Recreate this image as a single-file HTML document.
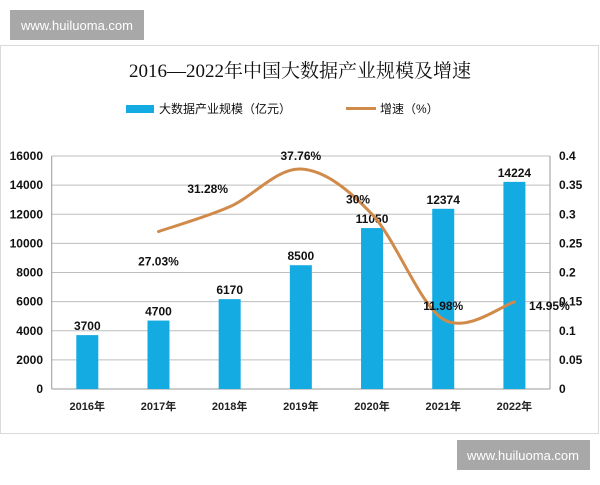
<!DOCTYPE html>
<html><head><meta charset="utf-8"><style>
body{margin:0;background:#fff;width:600px;height:480px;overflow:hidden;font-family:"Liberation Sans","Noto Sans CJK SC",sans-serif}
</style></head><body>
<svg width="600" height="480" viewBox="0 0 600 480">
<rect x="0.5" y="45.5" width="598" height="388" fill="#fff" stroke="#d9d9d9"/>
<rect x="10" y="10" width="134" height="30" fill="#a8a8a8"/>
<text x="77" y="30" font-size="13" fill="#fff" text-anchor="middle">www.huiluoma.com</text>
<rect x="457" y="440" width="133" height="30" fill="#a8a8a8"/>
<text x="523" y="460" font-size="13" fill="#fff" text-anchor="middle">www.huiluoma.com</text>
<text x="300" y="77" font-size="19" text-anchor="middle" fill="#111" font-family="Liberation Serif,'Noto Serif CJK SC',serif">2016—2022年中国大数据产业规模及增速</text>
<g>
<rect x="126" y="105" width="28" height="8" fill="#14abe3"/>
<text x="159" y="113" font-size="12" fill="#111">大数据产业规模（亿元）</text>
<rect x="346" y="107" width="30" height="3" fill="#d08a4a"/>
<text x="380" y="113" font-size="12" fill="#111">增速（%）</text>
</g>
<g id="plot"></g>
</svg>
<script>
const categories=["2016年","2017年","2018年","2019年","2020年","2021年","2022年"];
const barValues=[3700,4700,6170,8500,11050,12374,14224];
const growthValues=[null,0.2703,0.3128,0.3776,0.30,0.1198,0.1495];
const growthLabels=["","27.03%","31.28%","37.76%","30%","11.98%","14.95%"];
const leftTicks=[0,2000,4000,6000,8000,10000,12000,14000,16000];
const rightTicks=["0","0.05","0.1","0.15","0.2","0.25","0.3","0.35","0.4"];
const labelOffsets=[[0,0],[0,30],[-22,-18],[0,-13],[-14,-15],[0,-13],[35,4]];
const L=51.7,R=550,T=156,B=389,maxL=16000,maxR=0.4;
const ns="http://www.w3.org/2000/svg";
const g=document.getElementById('plot');
const bw=(R-L)/categories.length;
const xc=i=>L+bw*(i+0.5);
const yl=v=>B-v/maxL*(B-T);
const yr=v=>B-v/maxR*(B-T);
function mk(t,a,txt){const e=document.createElementNS(ns,t);for(const k in a)e.setAttribute(k,a[k]);if(txt!==undefined)e.textContent=txt;g.appendChild(e);return e;}
leftTicks.forEach((v,i)=>{
 const ln=mk('line',{x1:L,x2:R,y1:yl(v),y2:yl(v),stroke:i==0?'#999':'#bdbdbd','stroke-width':1});
 
 
 const t=mk('text',{x:43,y:yl(v)+4,'font-size':12,'font-weight':'bold','text-anchor':'end',fill:'#111'},String(v));
 
 
 const t2=mk('text',{x:559,y:yl(v)+4,'font-size':12,'font-weight':'bold',fill:'#111'},rightTicks[i]);
 
 
});
[L,R].forEach(x=>{const a=mk('line',{x1:x,x2:x,y1:T,y2:B,stroke:'#999'});
 
 });
barValues.forEach((v,i)=>{
 const r=mk('rect',{x:xc(i)-11,y:yl(v),width:22,height:B-yl(v),fill:'#14abe3'});
 
 
 const t=mk('text',{x:xc(i),y:yl(v)-5,'font-size':12,'font-weight':'bold','text-anchor':'middle',fill:'#111'},String(v));
 
 
 const c=mk('text',{x:xc(i),y:410,'font-size':11,'font-weight':'bold','text-anchor':'middle',fill:'#222'},categories[i]);
 
 
});
const pts=[];growthValues.forEach((v,i)=>{if(v!==null)pts.push([xc(i),yr(v),i]);});
let d='M'+pts[0][0]+','+pts[0][1];
for(let k=0;k<pts.length-1;k++){
 const p0=pts[Math.max(0,k-1)],p1=pts[k],p2=pts[k+1],p3=pts[Math.min(pts.length-1,k+2)];
 const c1=[p1[0]+(p2[0]-p0[0])/6,p1[1]+(p2[1]-p0[1])/6],c2=[p2[0]-(p3[0]-p1[0])/6,p2[1]-(p3[1]-p1[1])/6];
 d+=` C${c1[0]},${c1[1]} ${c2[0]},${c2[1]} ${p2[0]},${p2[1]}`;
}
const path=mk('path',{d:d,fill:'none',stroke:'#d08a4a','stroke-width':3,'stroke-linecap':'round'});


pts.forEach(p=>{const i=p[2];
 const t=mk('text',{x:p[0]+labelOffsets[i][0],y:p[1]+labelOffsets[i][1]+4,'font-size':12,'font-weight':'bold','text-anchor':'middle',fill:'#111'},growthLabels[i]);
 
 });
</script>
</body></html>
